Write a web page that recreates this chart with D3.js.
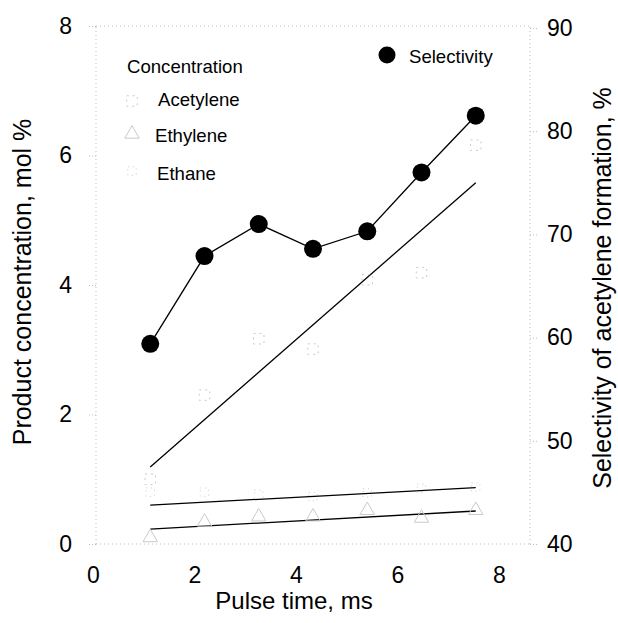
<!DOCTYPE html>
<html><head><meta charset="utf-8">
<script src="https://cdn.jsdelivr.net/npm/d3@7"></script>
<style>body{margin:0;background:#fff}svg{display:block}text{font-family:Arial,"Liberation Sans",sans-serif;fill:#000}</style>
</head><body>
<svg id="c" width="618" height="623"></svg>
<script>
const pulseTime = [1,2,3,4,5,6,7];
const selectivity = [59.4,67.9,71.0,68.6,70.3,76.0,81.5];
const acetylene = [1.0,2.30,3.17,3.01,4.08,4.19,6.16];
const ethylene = [0.10,0.34,0.42,0.42,0.52,0.40,0.52];
const ethane = [0.80,0.80,0.77,0.73,0.79,0.86,0.88];
const fitX = [1,7];
const acetyleneFit = [1.19,5.58];
const ethaneFit = [0.60,0.87];
const ethyleneFit = [0.23,0.51];
const xTicks = [0,2,4,6,8];
const yLeftTicks = [0,2,4,6,8];
const yRightTicks = [40,50,60,70,80,90];

const svg = d3.select("#c");
const x = d3.scaleLinear().domain([0,8]).range([96,530]);
const xLab = d3.scaleLinear().domain([0,8]).range([93,499]);
const yL = d3.scaleLinear().domain([0,8]).range([544,26]);
const yR = d3.scaleLinear().domain([40,90]).range([544,28]);

const faint = "#bcbcbc";
const frame = svg.append("g").attr("stroke",faint).attr("stroke-width",1).attr("stroke-dasharray","1,3").attr("fill","none");
frame.append("line").attr("x1",x(0)).attr("x2",x(8)).attr("y1",yL(8)).attr("y2",yL(8));
frame.append("line").attr("x1",x(0)).attr("x2",x(8)).attr("y1",yL(0)).attr("y2",yL(0));
frame.append("line").attr("x1",x(0)).attr("x2",x(0)).attr("y1",yL(0)).attr("y2",yL(8));
frame.append("line").attr("x1",x(8)).attr("x2",x(8)).attr("y1",yL(0)).attr("y2",yL(8));

const tickFont = 23;
const axL = d3.axisLeft(yL).tickValues(yLeftTicks).tickSize(8).tickPadding(16).tickFormat(d3.format("d"));
const gL = svg.append("g").attr("transform",`translate(${x(0)},0)`).call(axL);
gL.select(".domain").remove();
gL.selectAll(".tick line").attr("stroke",faint).attr("stroke-dasharray","1,2");
gL.selectAll("text").attr("font-size",tickFont).attr("font-family","Arial");

const axR = d3.axisRight(yR).tickValues(yRightTicks).tickSize(8).tickPadding(9).tickFormat(d3.format("d"));
const gR = svg.append("g").attr("transform",`translate(${x(8)},0)`).call(axR);
gR.select(".domain").remove();
gR.selectAll(".tick line").attr("stroke",faint).attr("stroke-dasharray","1,2");
gR.selectAll("text").attr("font-size",tickFont).attr("font-family","Arial");

const axB = d3.axisBottom(xLab).tickValues(xTicks).tickSize(0).tickPadding(23).tickFormat(d3.format("d"));
const gB = svg.append("g").attr("transform",`translate(0,${yL(0)})`).call(axB);
gB.select(".domain").remove();
gB.selectAll("text").attr("font-size",tickFont).attr("font-family","Arial");

svg.append("text").attr("transform","translate(31,282) rotate(-90)").attr("text-anchor","middle").attr("font-size",25).text("Product concentration, mol %");
svg.append("text").attr("transform","translate(611,288) rotate(-90)").attr("text-anchor","middle").attr("font-size",25).text("Selectivity of acetylene formation, %");
svg.append("text").attr("x",294).attr("y",609).attr("text-anchor","middle").attr("font-size",24).text("Pulse time, ms");

const fits = [acetyleneFit, ethaneFit, ethyleneFit];
const fitLine = d3.line().x((d,i)=>x(fitX[i])).y(d=>yL(d));
fits.forEach(f=>svg.append("path").attr("d",fitLine(f)).attr("fill","none").attr("stroke","#000").attr("stroke-width",1.3));

const markC = "#cacaca";
const sq = d3.symbol().type(d3.symbolSquare).size(110);
const tri = d3.symbol().type(d3.symbolTriangle).size(90);
const dia = d3.symbol().type(d3.symbolSquare).size(70);
svg.append("g").selectAll("path").data(acetylene).join("path")
  .attr("d",sq).attr("transform",(d,i)=>`translate(${x(pulseTime[i])},${yL(d)})`)
  .attr("fill","none").attr("stroke",markC).attr("stroke-dasharray","2,4");
svg.append("g").selectAll("path").data(ethylene).join("path")
  .attr("d",tri).attr("transform",(d,i)=>`translate(${x(pulseTime[i])},${yL(d)})`)
  .attr("fill","none").attr("stroke",markC);
svg.append("g").selectAll("path").data(ethane).join("path")
  .attr("d",dia).attr("transform",(d,i)=>`translate(${x(pulseTime[i])},${yL(d)})`)
  .attr("fill","none").attr("stroke",markC).attr("stroke-dasharray","1,4");

const sLine = d3.line().x((d,i)=>x(pulseTime[i])).y(d=>yR(d));
svg.append("path").attr("d",sLine(selectivity)).attr("fill","none").attr("stroke","#000").attr("stroke-width",1.3);
svg.append("g").selectAll("circle").data(selectivity).join("circle")
  .attr("cx",(d,i)=>x(pulseTime[i])).attr("cy",d=>yR(d)).attr("r",9).attr("fill","#000");

const legFont = 18.6;
svg.append("text").attr("x",127).attr("y",73).attr("font-size",legFont).text("Concentration");
const legItems = [["Acetylene",sq,101,106,158,"2,4"],["Ethylene",tri,134,142,155,null],["Ethane",dia,171,180,157,"1,4"]];
legItems.forEach(([t,sym,my,ty,tx,dash])=>{
  const p = svg.append("path").attr("d",sym).attr("transform",`translate(132,${my})`).attr("fill","none").attr("stroke",markC);
  if(dash) p.attr("stroke-dasharray",dash);
  svg.append("text").attr("x",tx).attr("y",ty).attr("font-size",legFont).text(t);
});
svg.append("circle").attr("cx",387).attr("cy",55).attr("r",8.5).attr("fill","#000");
svg.append("text").attr("x",409).attr("y",63).attr("font-size",legFont).text("Selectivity");
</script>
</body></html>
